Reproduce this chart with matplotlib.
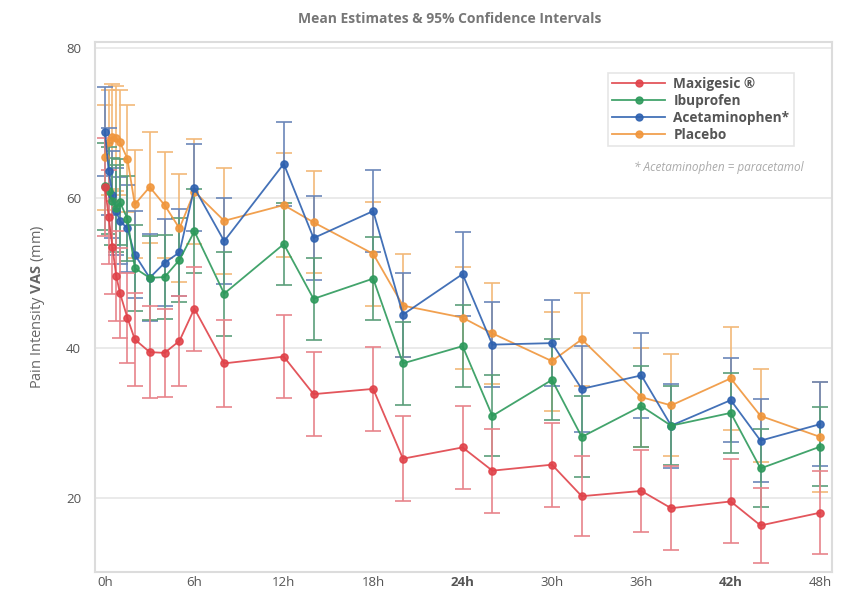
import matplotlib
matplotlib.use("Agg")
import matplotlib.pyplot as plt
from matplotlib.lines import Line2D

plt.rcParams['font.family'] = ['Open Sans', 'DejaVu Sans']
plt.rcParams['mathtext.fontset'] = 'custom'
plt.rcParams['mathtext.rm'] = 'Open Sans'
plt.rcParams['mathtext.bf'] = 'Open Sans:bold'

times = [0, 0.25, 0.5, 0.75, 1, 1.5, 2, 3, 4, 5, 6, 8, 12, 14, 18, 20, 24, 26, 30, 32, 36, 38, 42, 44, 48]

maxigesic = [61.5, 57.5, 53.5, 49.7, 47.4, 44.1, 41.2, 39.5, 39.4, 41.0, 45.3, 38.0, 38.9, 33.9, 34.6,
             25.3, 26.8, 23.7, 24.5, 20.3, 21.0, 18.7, 19.6, 16.4, 18.1]
maxigesic_ci = [6.5, 6.3, 6.2, 6.0, 6.0, 6.0, 6.2, 6.1, 5.9, 6.0, 5.6, 5.8, 5.5, 5.6, 5.6,
                5.7, 5.5, 5.6, 5.6, 5.3, 5.5, 5.6, 5.6, 5.0, 5.5]

ibuprofen = [61.6, 61.0, 59.6, 58.7, 59.5, 57.3, 50.7, 49.4, 49.5, 51.8, 55.6, 47.3, 53.9, 46.6, 49.3,
             38.0, 40.3, 31.0, 35.8, 28.2, 32.3, 29.7, 31.4, 24.0, 26.9]
ibuprofen_ci = [5.8, 5.8, 5.8, 5.8, 5.7, 5.7, 5.7, 5.6, 5.6, 5.6, 5.6, 5.6, 5.5, 5.5, 5.5,
                5.5, 5.5, 5.4, 5.4, 5.4, 5.4, 5.3, 5.3, 5.2, 5.3]

acetaminophen = [68.9, 63.6, 60.5, 58.3, 57.0, 56.0, 52.5, 49.4, 51.4, 52.8, 61.4, 54.3, 64.6, 54.7, 58.3,
                 44.5, 49.9, 40.5, 40.7, 34.6, 36.4, 29.7, 33.1, 27.7, 29.9]
acetaminophen_ci = [5.9, 5.8, 5.8, 5.8, 5.8, 5.8, 5.8, 5.8, 5.8, 5.8, 5.8, 5.7, 5.6, 5.6, 5.5,
                    5.6, 5.6, 5.7, 5.7, 5.7, 5.7, 5.6, 5.6, 5.5, 5.6]

placebo = [65.5, 67.5, 68.2, 68.0, 67.5, 65.3, 59.2, 61.5, 59.1, 56.0, 60.9, 57.0, 59.1, 56.8, 52.6,
           45.7, 44.1, 42.0, 38.3, 41.2, 33.5, 32.4, 36.0, 31.0, 28.2]
placebo_ci = [7.0, 7.0, 7.0, 7.0, 7.0, 7.1, 7.2, 7.4, 7.1, 7.2, 7.0, 7.1, 6.9, 6.8, 6.9,
              6.9, 6.8, 6.7, 6.6, 6.2, 6.6, 6.8, 6.9, 6.2, 7.3]

series_names = ['Maxigesic ®', 'Ibuprofen', 'Acetaminophen*', 'Placebo']
xtick_vals = [0, 6, 12, 18, 24, 30, 36, 42, 48]
xtick_labels = ['0h', '6h', '12h', '18h', '24h', '30h', '36h', '42h', '48h']
ytick_vals = [20, 40, 60, 80]

line_colors = ['#e0434a', '#2e9a5c', '#2f62b0', '#f0963c']
err_colors = ['#e8838a', '#5a9e7a', '#6a86b8', '#f2b878']

fig = plt.figure(figsize=(8.43, 5.95), dpi=100)
ax = fig.add_axes([0.1127, 0.0387, 0.8743, 0.8903])

data = [(maxigesic, maxigesic_ci), (ibuprofen, ibuprofen_ci),
        (acetaminophen, acetaminophen_ci), (placebo, placebo_ci)]
order = [3, 2, 1, 0]
for i in order:
    vals, ci = data[i]
    ax.errorbar(times, vals, yerr=ci, fmt='none', ecolor=err_colors[i], elinewidth=1.4,
                capsize=5.5, capthick=1.4, alpha=0.85, zorder=2 + (3 - i) * 0.1)
for i in order:
    vals, ci = data[i]
    ax.plot(times, vals, color=line_colors[i], lw=1.3, marker='o', markersize=5.2,
            markerfacecolor=line_colors[i], markeredgecolor=line_colors[i], alpha=0.9,
            zorder=4 + (3 - i) * 0.1)

ax.set_xlim(-0.67, 48.8)
ax.set_ylim(10.2, 80.8)
ax.set_yticks(ytick_vals)
ax.set_xticks(xtick_vals)
ax.set_xticklabels(xtick_labels)
for lbl in ax.get_xticklabels():
    if lbl.get_text() in ('24h', '42h'):
        lbl.set_fontweight('bold')
        lbl.set_color('#333333')
ax.tick_params(axis='both', length=0, labelsize=9.5, colors='#555555')
ax.tick_params(axis='x', pad=3)
ax.tick_params(axis='y', pad=10)
ax.grid(axis='y', color='#e6e6e6', lw=1.2)
ax.set_axisbelow(True)
for sp in ax.spines.values():
    sp.set_color('#dcdcdc')
    sp.set_linewidth(1.5)

ax.set_ylabel(r'Pain Intensity $\mathbf{VAS}$ (mm)', fontsize=10.5, color='#666666', labelpad=14)
fig.text(0.534, 0.968, 'Mean Estimates & 95% Confidence Intervals', ha='center', va='center',
         fontsize=10, fontweight='bold', color='#777777')

handles = [Line2D([0], [0], color=line_colors[i], lw=1.3, marker='o', markersize=5.0, alpha=0.9)
           for i in range(4)]
leg = ax.legend(handles, series_names, loc='upper right', bbox_to_anchor=(0.957, 0.955),
                frameon=True, fancybox=False, edgecolor='#e0e0e0', fontsize=9.8,
                handlelength=3.9, handletextpad=0.6, labelspacing=0.22, borderpad=0.3)
for t in leg.get_texts():
    t.set_fontweight('bold')
    t.set_color('#555555')
leg.get_frame().set_linewidth(1.2)

ax.text(0.962, 0.764, '* Acetaminophen = paracetamol', transform=ax.transAxes, ha='right',
        va='center', fontsize=8.5, style='italic', color='#aaaaaa')

fig.savefig('out.png', dpi=100)
